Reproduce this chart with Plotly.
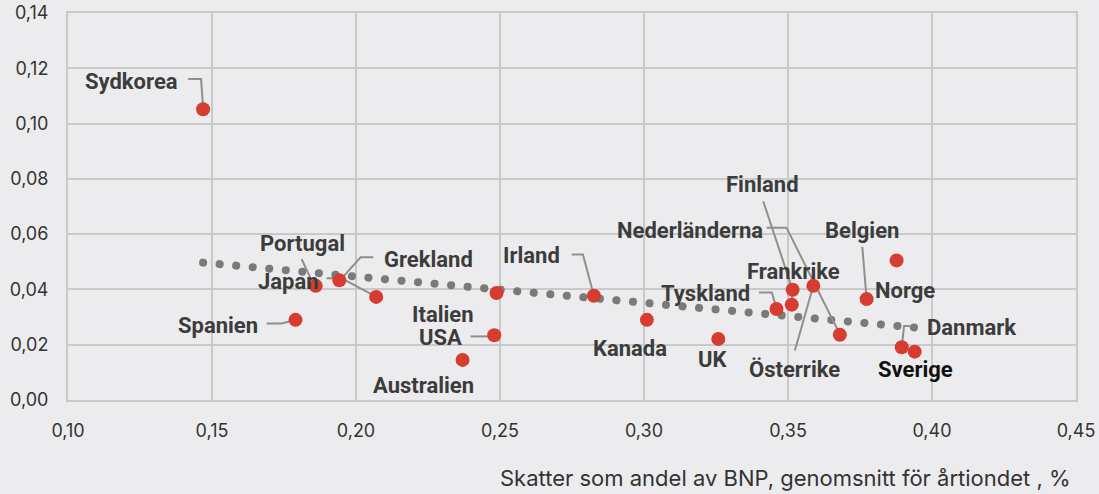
import plotly.graph_objects as go

# ---- data ----
countries = ["Sydkorea", "Spanien", "Portugal", "Grekland", "Japan", "Australien", "USA",
             "Italien", "Irland", "Kanada", "UK", "Tyskland", "Frankrike", "Finland",
             "Österrike", "Nederländerna", "Belgien", "Norge", "Danmark", "Sverige"]
tax_share = [0.1469, 0.179, 0.186, 0.1942, 0.207, 0.237, 0.248,
             0.2488, 0.2826, 0.301, 0.3258, 0.346, 0.3513, 0.3516,
             0.3588, 0.368, 0.3773, 0.3877, 0.3895, 0.394]
growth = [0.1052, 0.029, 0.0413, 0.0433, 0.0373, 0.0145, 0.0234,
          0.0387, 0.0377, 0.029, 0.0221, 0.0329, 0.0345, 0.0399,
          0.0413, 0.0236, 0.0365, 0.0505, 0.0191, 0.0175]

trend_x = [0.1469, 0.3941]
trend_y = [0.0497, 0.0262]

x_ticks = [0.10, 0.15, 0.20, 0.25, 0.30, 0.35, 0.40, 0.45]
y_ticks = [0.00, 0.02, 0.04, 0.06, 0.08, 0.10, 0.12, 0.14]
x_title = "Skatter som andel av BNP, genomsnitt för årtiondet , %"

# ---- label layout (positions of text and leader lines, data units) ----
label_pos = {
    "Sydkorea": (0.1222, 0.1153), "Portugal": (0.1813, 0.0566), "Grekland": (0.2250, 0.0508),
    "Japan": (0.1767, 0.0429), "Spanien": (0.1521, 0.0268), "Italien": (0.2302, 0.0311),
    "USA": (0.2295, 0.0227), "Australien": (0.2236, 0.0054), "Irland": (0.2611, 0.0522),
    "Kanada": (0.2951, 0.0187), "UK": (0.3241, 0.0145), "Tyskland": (0.3215, 0.0384),
    "Frankrike": (0.3519, 0.0465), "Finland": (0.3413, 0.0780), "Nederländerna": (0.3158, 0.0614),
    "Österrike": (0.3521, 0.0111), "Belgien": (0.3757, 0.0614), "Norge": (0.3906, 0.0395),
    "Danmark": (0.4137, 0.0262), "Sverige": (0.3944, 0.0109),
}
leaders = [
    [(0.1417, 0.1161), (0.1462, 0.1161), (0.1469, 0.1060)],
    [(0.1811, 0.0510), (0.1848, 0.0428)],
    [(0.2060, 0.0516), (0.2016, 0.0516), (0.1944, 0.0433)],
    [(0.1898, 0.0440), (0.1950, 0.0440), (0.2071, 0.0373)],
    [(0.1690, 0.0277), (0.1742, 0.0277), (0.1791, 0.0290)],
    [(0.2398, 0.0230), (0.2479, 0.0230)],
    [(0.2749, 0.0526), (0.2788, 0.0526), (0.2826, 0.0377)],
    [(0.3399, 0.0389), (0.3444, 0.0389), (0.3461, 0.0329)],
    [(0.3414, 0.0719), (0.3516, 0.0399)],
    [(0.3516, 0.0399), (0.3513, 0.0345)],
    [(0.3426, 0.0623), (0.3495, 0.0623), (0.3681, 0.0236)],
    [(0.3524, 0.0179), (0.3588, 0.0413)],
    [(0.3758, 0.0554), (0.3773, 0.0365)],
    [(0.3924, 0.0268), (0.3903, 0.0268), (0.3895, 0.0191)],
]

BG = "#ececee"
GRID = "#c9c9c9"
TICK_FONT = dict(family="Inter", size=18, color="#333333")

lx, ly = [], []
for seg in leaders:
    for px, py in seg:
        lx.append(px)
        ly.append(py)
    lx.append(None)
    ly.append(None)

fig = go.Figure()
fig.add_trace(go.Scatter(x=trend_x, y=trend_y, mode="lines", name="trend",
                         line=dict(color="#7a7a7a", width=8, dash="0.1px,16.5px"),
                         hoverinfo="skip", showlegend=False))
fig.add_trace(go.Scatter(x=lx, y=ly, mode="lines", line=dict(color="#8f8f8f", width=2),
                         hoverinfo="skip", showlegend=False))
fig.add_trace(go.Scatter(x=tax_share, y=growth, mode="markers", text=countries,
                         marker=dict(color="#d63c2f", size=14, line=dict(width=0)),
                         showlegend=False))

for name in countries:
    px, py = label_pos[name]
    fig.add_annotation(x=px, y=py, text="<b>%s</b>" % name, showarrow=False,
                       xanchor="center", yanchor="middle",
                       font=dict(family="Roboto", size=22,
                                 color="#111111" if name == "Sverige" else "#3c3c3c"))

fig.add_annotation(xref="paper", yref="paper", x=0.997, y=-0.2016, text=x_title,
                   showarrow=False, xanchor="right", yanchor="middle",
                   font=dict(family="Inter", size=22, color="#333333"))

fig.update_layout(
    width=1099, height=494,
    margin=dict(l=68, r=23, t=13, b=94),
    paper_bgcolor=BG, plot_bgcolor=BG,
    separators=", ",
    font=dict(family="Inter", size=18, color="#333333"),
)
fig.update_xaxes(range=[0.10, 0.45], tickvals=x_ticks, tickformat=".2f",
                 showgrid=True, gridcolor=GRID, gridwidth=2,
                 showline=True, linecolor=GRID, linewidth=2, mirror=True,
                 zeroline=False, ticks="", ticklabelstandoff=13, automargin=False,
                 tickfont=TICK_FONT)
fig.update_yaxes(range=[0.0, 0.14], tickvals=y_ticks, tickformat=".2f",
                 showgrid=True, gridcolor=GRID, gridwidth=2,
                 showline=True, linecolor=GRID, linewidth=2, mirror=True,
                 zeroline=False, ticks="", ticklabelstandoff=14, automargin=False,
                 tickfont=TICK_FONT)

post = """
document.body.style.margin = '0';
document.body.style.background = '%s';
document.querySelectorAll('.scatterlayer .trace').forEach(function(t, i){
  if (i === 0) { t.querySelectorAll('path.js-line').forEach(function(p){ p.style.strokeLinecap = 'round'; }); }
});
""" % BG
fig.write_html("out.html", post_script=post, config={"displayModeBar": False})
